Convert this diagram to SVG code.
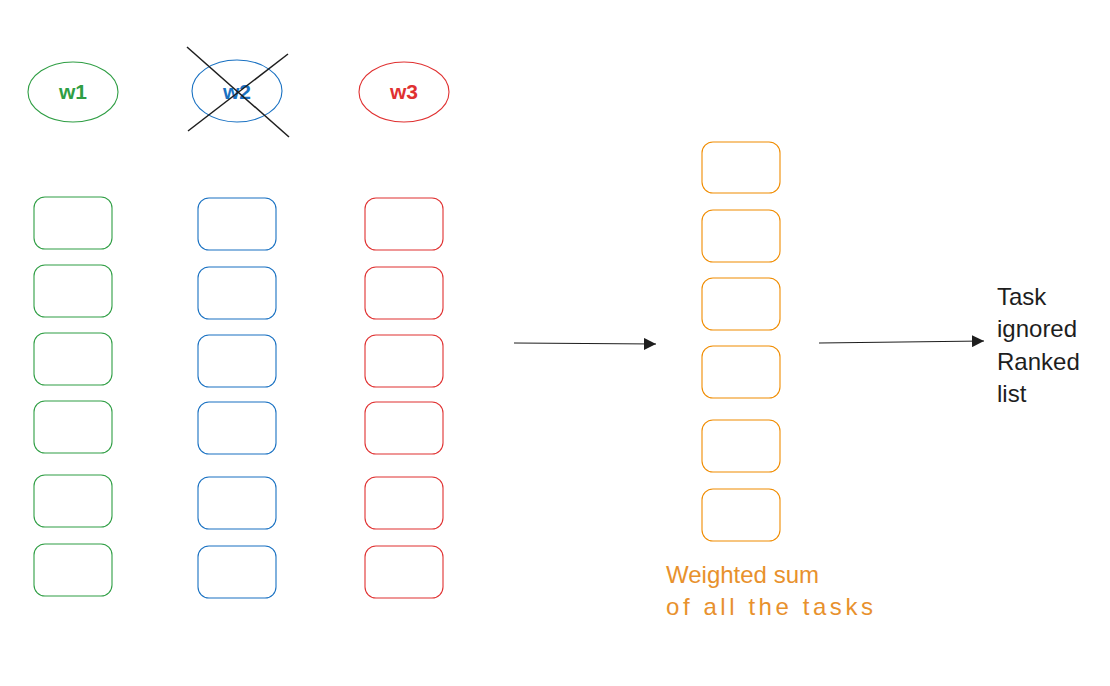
<svg xmlns="http://www.w3.org/2000/svg" width="1110" height="686" viewBox="0 0 1110 686">
<defs>
<style>
.g{stroke:#2f9e44}.b{stroke:#1971c2}.r{stroke:#e03131}.o{stroke:#f08c00}
rect,ellipse{fill:none;stroke-width:1.1}
.lbl{font-family:"Liberation Sans",Arial,sans-serif;font-size:21px;font-weight:bold;text-anchor:middle}
.txt{font-family:"Liberation Sans",Arial,sans-serif;font-size:24px}
.conn line{stroke:#1e1e1e;stroke-width:1.2}
</style>
<marker id="ah" viewBox="0 0 10 10" refX="10" refY="5" markerWidth="12" markerHeight="12" markerUnits="userSpaceOnUse" orient="auto">
<path d="M0,0 L10,5 L0,10 z" fill="#1e1e1e"/>
</marker>
</defs>
<rect width="1110" height="686" fill="#ffffff"/>

<g id="w1"><ellipse class="g" cx="73" cy="92" rx="45" ry="30"/><text class="lbl" x="73" y="99" fill="#2f9e44">w1</text></g>
<g id="w2"><ellipse class="b" cx="237" cy="91" rx="45" ry="31"/><text class="lbl" x="237" y="99" fill="#1971c2">w2</text>
<line x1="187" y1="47" x2="289" y2="137" stroke="#1e1e1e" stroke-width="1.5"/>
<line x1="288" y1="54" x2="188" y2="131" stroke="#1e1e1e" stroke-width="1.5"/></g>
<g id="w3"><ellipse class="r" cx="404" cy="92" rx="45" ry="30"/><text class="lbl" x="404" y="99" fill="#e03131">w3</text></g>

<g id="green-col">
<rect class="g" x="34" y="197" width="78" height="52" rx="11"/>
<rect class="g" x="34" y="265" width="78" height="52" rx="11"/>
<rect class="g" x="34" y="333" width="78" height="52" rx="11"/>
<rect class="g" x="34" y="401" width="78" height="52" rx="11"/>
<rect class="g" x="34" y="475" width="78" height="52" rx="11"/>
<rect class="g" x="34" y="544" width="78" height="52" rx="11"/>
</g>
<g id="blue-col">
<rect class="b" x="198" y="198" width="78" height="52" rx="11"/>
<rect class="b" x="198" y="267" width="78" height="52" rx="11"/>
<rect class="b" x="198" y="335" width="78" height="52" rx="11"/>
<rect class="b" x="198" y="402" width="78" height="52" rx="11"/>
<rect class="b" x="198" y="477" width="78" height="52" rx="11"/>
<rect class="b" x="198" y="546" width="78" height="52" rx="11"/>
</g>
<g id="red-col">
<rect class="r" x="365" y="198" width="78" height="52" rx="11"/>
<rect class="r" x="365" y="267" width="78" height="52" rx="11"/>
<rect class="r" x="365" y="335" width="78" height="52" rx="11"/>
<rect class="r" x="365" y="402" width="78" height="52" rx="11"/>
<rect class="r" x="365" y="477" width="78" height="52" rx="11"/>
<rect class="r" x="365" y="546" width="78" height="52" rx="11"/>
</g>
<g id="orange-col">
<rect class="o" x="702" y="142" width="78" height="51" rx="11"/>
<rect class="o" x="702" y="210" width="78" height="52" rx="11"/>
<rect class="o" x="702" y="278" width="78" height="52" rx="11"/>
<rect class="o" x="702" y="346" width="78" height="52" rx="11"/>
<rect class="o" x="702" y="420" width="78" height="52" rx="11"/>
<rect class="o" x="702" y="489" width="78" height="52" rx="11"/>
</g>

<g id="connectors" class="conn">
<line x1="514" y1="343" x2="656" y2="344" marker-end="url(#ah)"/>
<line x1="819" y1="343" x2="984" y2="341" marker-end="url(#ah)"/>
</g>

<g id="result-label">
<text class="txt" fill="#1e1e1e">
<tspan x="997" y="305">Task</tspan>
<tspan x="997" y="337">ignored</tspan>
<tspan x="997" y="370">Ranked</tspan>
<tspan x="997" y="402">list</tspan>
</text>
</g>
<g id="sum-label">
<text class="txt" fill="#e8912d">
<tspan x="666" y="583">Weighted sum</tspan>
<tspan x="666" y="615" textLength="207" lengthAdjust="spacing">of all the tasks</tspan>
</text>
</g>
</svg>
